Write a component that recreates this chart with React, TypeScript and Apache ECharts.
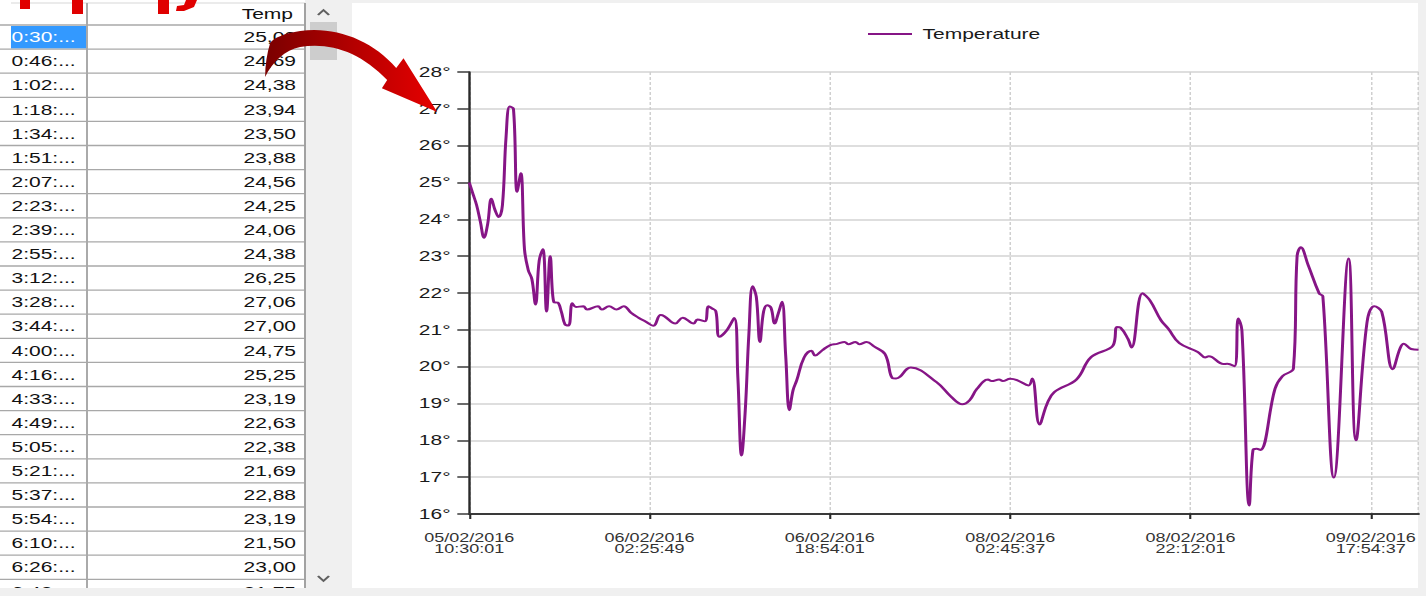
import React, { useEffect, useRef } from "react";
import * as echarts from "echarts";

// horizontal stretch of the original screenshot
const S = 1.5;
const W = 1426 / S;
const H = 596;
const FONT = '"Liberation Sans", Arial, sans-serif';

// ---- data grid (left) ----
const tableTimes = [
  "0:30:...", "0:46:...", "1:02:...", "1:18:...", "1:34:...", "1:51:...",
  "2:07:...", "2:23:...", "2:39:...", "2:55:...", "3:12:...", "3:28:...",
  "3:44:...", "4:00:...", "4:16:...", "4:33:...", "4:49:...", "5:05:...",
  "5:21:...", "5:37:...", "5:54:...", "6:10:...", "6:26:...", "6:42:...",
];
const tableTemps = [
  "25,00", "24,69", "24,38", "23,94", "23,50", "23,88",
  "24,56", "24,25", "24,06", "24,38", "26,25", "27,06",
  "27,00", "24,75", "25,25", "23,19", "22,63", "22,38",
  "21,69", "22,88", "23,19", "21,50", "23,00", "21,75",
];

// ---- chart ----
const xTickLabels = [
  "05/02/2016\n10:30:01",
  "06/02/2016\n02:25:49",
  "06/02/2016\n18:54:01",
  "08/02/2016\n02:45:37",
  "08/02/2016\n22:12:01",
  "09/02/2016\n17:54:37",
];
const labelStep = 49;
const lastIndex = 258;

// readings after the rows shown in the grid (point index, temperature)
const laterIdx = [
  24, 25, 26, 27, 28, 29, 31, 32, 35, 36, 38, 40, 42, 44, 46, 48, 50, 52, 53, 56,
  58, 61, 62, 64, 65, 66, 67, 68, 70, 72, 73, 74, 75, 76, 77, 78, 79, 80, 81, 82,
  83, 84, 85, 86, 87, 88, 89, 91, 93, 94, 96, 98, 100, 102, 103, 105, 106, 108, 110, 113,
  115, 116, 120, 127, 131, 134, 136, 138, 141, 142, 144, 145, 147, 149, 152, 153, 155, 157, 159, 165,
  169, 175, 176, 177, 179, 180, 183, 185, 188, 190, 193, 198, 200, 201, 205, 206, 208, 209, 210, 212,
  213, 214, 215, 219, 221, 224, 225, 226, 228, 231, 232, 235, 239, 241, 244, 246, 248, 251, 253, 254,
  256, 258,
];
const laterTemp = [
  21.74, 21.5, 21.15, 21.12, 21.72, 21.62, 21.64, 21.55, 21.64, 21.55, 21.64, 21.55, 21.64, 21.46, 21.33, 21.22, 21.11, 21.4, 21.37, 21.17,
  21.33, 21.17, 21.28, 21.23, 21.64, 21.58, 21.51, 20.81, 20.99, 21.32, 19.7, 17.59, 18.8, 20.9, 22.18, 21.9, 20.67, 21.5, 21.67, 21.6,
  21.17, 21.45, 21.76, 20.3, 18.82, 19.36, 19.63, 20.25, 20.43, 20.3, 20.45, 20.58, 20.62, 20.67, 20.61, 20.67, 20.61, 20.67, 20.55, 20.34,
  19.69, 19.68, 19.98, 19.58, 19.18, 18.98, 19.09, 19.4, 19.65, 19.61, 19.65, 19.61, 19.67, 19.63, 19.49, 19.68, 18.43, 18.98, 19.31, 19.65,
  20.26, 20.58, 21.08, 21.06, 20.76, 20.52, 21.99, 21.8, 21.26, 21.03, 20.64, 20.4, 20.25, 20.28, 20.07, 20.08, 20.01, 21.31, 20.99, 16.23,
  17.73, 17.77, 17.74, 19.4, 19.74, 19.95, 23.0, 23.24, 22.76, 21.99, 21.91, 16.99, 22.94, 18.0, 21.2, 21.64, 21.49, 19.93, 20.5, 20.62,
  20.48, 20.46,
];

const ARROW_D =
  "M265 77 C272 62 285 50 300 47 C330 42 360 52 387 80 L381.7 88.3 L437 112 L403.3 58.3 L396 68 C372 40 335 26 300 31 C285 33 273 38 270 43 C267 53 265 65 265 77 Z";

let registered = false;
function registerShapes() {
  if (registered) return;
  registered = true;
  echarts.graphic.registerShape("redArrow", echarts.graphic.extendPath(ARROW_D, {}) as any);
}

const sx = (X: number) => X / S;

function txt(x: number, y: number, text: string, fill: string, size: number, align: string, z = 5) {
  return {
    type: "text",
    x,
    y,
    z,
    silent: true,
    style: {
      text,
      fill,
      fontSize: size,
      fontFamily: FONT,
      align,
      textAlign: align,
      verticalAlign: "middle",
      textVerticalAlign: "middle",
    },
  };
}

function buildGraphics() {
  const els: any[] = [];
  // white panels
  els.push({ type: "rect", z: -10, silent: true, shape: { x: 0, y: 0, width: sx(305), height: 588 }, style: { fill: "#ffffff" } });
  els.push({ type: "rect", z: -10, silent: true, shape: { x: sx(352), y: 3, width: sx(1418 - 352), height: 585 }, style: { fill: "#ffffff" } });
  // scrollbar thumb + chevrons
  els.push({ type: "rect", z: 1, silent: true, shape: { x: sx(310), y: 22, width: sx(27), height: 38 }, style: { fill: "#cdcdcd" } });
  els.push({ type: "polyline", z: 1, silent: true, shape: { points: [[sx(318), 15], [sx(323.5), 10], [sx(329), 15]] }, style: { stroke: "#606060", lineWidth: 1.6, fill: null } });
  els.push({ type: "polyline", z: 1, silent: true, shape: { points: [[sx(318), 576], [sx(323.5), 581], [sx(329), 576]] }, style: { stroke: "#606060", lineWidth: 1.6, fill: null } });

  const rowTop = 25;
  const rowH = 24.1;
  // selected cell
  els.push({ type: "rect", z: 1, silent: true, shape: { x: sx(11), y: rowTop + 1, width: sx(75.5), height: rowH - 1.5 }, style: { fill: "#3399ff" } });
  // grid lines
  els.push({ type: "line", z: 2, silent: true, shape: { x1: sx(11), y1: 3, x2: sx(305), y2: 3 }, style: { stroke: "#d8d8d8", lineWidth: 1 } });
  for (let i = 0; i <= tableTimes.length; i++) {
    const y = rowTop + i * rowH;
    els.push({ type: "line", z: 2, silent: true, shape: { x1: 0, y1: y, x2: sx(305), y2: y }, style: { stroke: "#a8a8a8", lineWidth: 1.3 } });
  }
  els.push({ type: "line", z: 2, silent: true, shape: { x1: sx(87), y1: 3, x2: sx(87), y2: 588 }, style: { stroke: "#a8a8a8", lineWidth: 1.3 } });
  els.push({ type: "line", z: 2, silent: true, shape: { x1: sx(305), y1: 3, x2: sx(305), y2: 588 }, style: { stroke: "#a0a0a0", lineWidth: 1.3 } });
  // header
  els.push(txt(sx(293), 14, "Temp", "#111111", 14, "right"));
  tableTimes.forEach((t, i) => {
    const cy = rowTop + i * rowH + rowH / 2 + 0.5;
    els.push(txt(sx(11.5), cy, t, i === 0 ? "#ffffff" : "#111111", 14, "left"));
    els.push(txt(sx(296), cy, tableTemps[i], "#111111", 14, "right"));
  });
  // bottom grey strip clipping the last row
  els.push({ type: "rect", z: 50, silent: true, shape: { x: 0, y: 588, width: W, height: 8 }, style: { fill: "#f0f0f0" } });
  // red fragments of a heading above the screenshot
  const red = "#e00000";
  els.push({ type: "rect", z: 60, silent: true, shape: { x: sx(20), y: 0, width: sx(10), height: 9 }, style: { fill: red } });
  els.push({ type: "rect", z: 60, silent: true, shape: { x: sx(72), y: 0, width: sx(11), height: 14 }, style: { fill: red } });
  els.push({ type: "rect", z: 60, silent: true, shape: { x: sx(158), y: 0, width: sx(11), height: 14 }, style: { fill: red } });
  els.push({ type: "polygon", z: 60, silent: true, shape: { points: [[sx(186), 0], [sx(197), 0], [sx(194), 7], [sx(184), 11], [sx(176), 11], [sx(177), 6], [sx(184), 5]] }, style: { fill: red } });
  // red curved arrow
  els.push({
    type: "redArrow",
    z: 100,
    silent: true,
    x: 0,
    y: 0,
    scaleX: 1 / S,
    scaleY: 1,
    style: {
      fill: {
        type: "linear",
        x: 0,
        y: 0,
        x2: 1,
        y2: 0,
        colorStops: [
          { offset: 0, color: "#7a0000" },
          { offset: 0.55, color: "#b80000" },
          { offset: 1, color: "#e60000" },
        ],
      },
    },
  });
  return els;
}

export default function App() {
  const ref = useRef<HTMLDivElement>(null);
  useEffect(() => {
    if (!ref.current) return;
    registerShapes();
    const chart = echarts.init(ref.current, null, { renderer: "svg" });
    const data = tableTemps
      .map((t, i) => [i, parseFloat(t.replace(",", "."))])
      .concat(laterIdx.map((x, i) => [x, laterTemp[i]]));
    const option: any = {
      animation: false,
      backgroundColor: "#f0f0f0",
      textStyle: { fontFamily: FONT },
      legend: {
        left: sx(868) - 5,
        top: 22,
        icon: "rect",
        itemWidth: sx(44),
        itemHeight: 2,
        data: ["Temperature"],
        textStyle: { fontSize: 14, color: "#1a1a1a", fontFamily: FONT, padding: [0, 0, 0, 2] },
      },
      grid: { left: sx(469.3), right: W - sx(1418), top: 72, bottom: 82, containLabel: false },
      xAxis: {
        type: "value",
        min: 0,
        max: lastIndex,
        interval: labelStep,
        axisLine: { show: true, onZero: false, lineStyle: { color: "#3a3a3a", width: 2 } },
        axisTick: { show: true, length: 5, lineStyle: { color: "#2a2a2a", width: 1.4 } },
        axisLabel: {
          show: true,
          margin: 18,
          fontSize: 12,
          lineHeight: 11,
          color: "#333333",
          fontFamily: FONT,
          showMaxLabel: false,
          formatter: (v: number) => {
            const k = Math.round(v / labelStep);
            return Math.abs(v - k * labelStep) < 1e-6 && k < xTickLabels.length ? xTickLabels[k] : "";
          },
        },
        splitLine: { show: true, lineStyle: { color: "#cfcfcf", width: 1, type: [3, 2] } },
      },
      yAxis: {
        type: "value",
        min: 16,
        max: 28,
        interval: 1,
        offset: 1.5,
        axisLine: { show: true, lineStyle: { color: "#2a2a2a", width: 1.6 } },
        axisTick: { show: true, length: 8, lineStyle: { color: "#3a3a3a", width: 1.5 } },
        axisLabel: { margin: 11, fontSize: 14, color: "#1a1a1a", fontFamily: FONT, formatter: "{value}°" },
        splitLine: { show: true, lineStyle: { color: "#d3d3d3", width: 1.5 } },
      },
      series: [
        {
          name: "Temperature",
          type: "line",
          data,
          smooth: 0.4,
          showSymbol: false,
          symbol: "none",
          lineStyle: { color: "#861586", width: 2 },
          itemStyle: { color: "#861586" },
        },
      ],
      graphic: { elements: buildGraphics() },
    };
    chart.setOption(option);
    return () => chart.dispose();
  }, []);
  return (
    <div
      ref={ref}
      style={{
        position: "fixed",
        left: 0,
        top: 0,
        width: W,
        height: H,
        transform: `scaleX(${S})`,
        transformOrigin: "0 0",
      }}
    />
  );
}
